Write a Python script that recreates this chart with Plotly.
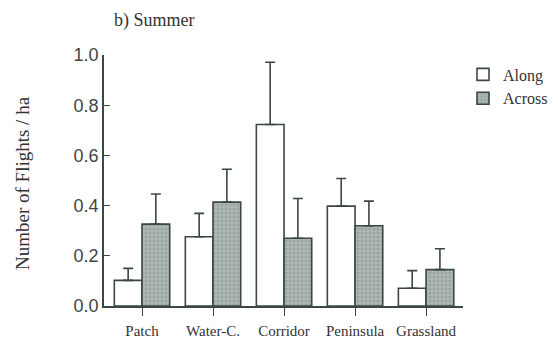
import plotly.graph_objects as go

# Summer flight counts per landscape element
categories = ["Patch", "Water-C.", "Corridor", "Peninsula", "Grassland"]
along = [0.102, 0.276, 0.723, 0.398, 0.071]
along_err = [0.048, 0.093, 0.248, 0.110, 0.070]
across = [0.326, 0.414, 0.270, 0.320, 0.145]
across_err = [0.120, 0.131, 0.158, 0.098, 0.083]
y_ticks = [0.0, 0.2, 0.4, 0.6, 0.8, 1.0]

ink = "#3b4743"
serif = "Liberation Serif, Times New Roman, serif"
sans = "Liberation Sans, Arial, sans-serif"

fig = go.Figure()
fig.add_trace(go.Bar(
    name="Along", x=categories, y=along,
    marker=dict(color="white", line=dict(color=ink, width=1.6)),
    error_y=dict(type="data", array=along_err, arrayminus=[0] * len(along),
                 color=ink, thickness=1.6, width=5),
    legendgroup="a",
))
fig.add_trace(go.Bar(
    name="Across", x=categories, y=across,
    marker=dict(color="#aeb9b2", line=dict(color=ink, width=1.6),
                pattern=dict(shape=".", fgcolor="#7f8d86", size=4, solidity=0.45)),
    error_y=dict(type="data", array=across_err, arrayminus=[0] * len(across),
                 color=ink, thickness=1.6, width=5),
    legendgroup="b",
))

fig.update_layout(
    width=558, height=344,
    margin=dict(l=104, r=95, t=55, b=37.5, autoexpand=False),
    paper_bgcolor="white", plot_bgcolor="white",
    barmode="group", bargap=0.22, bargroupgap=0,
    showlegend=True,
    legend=dict(x=1.0, y=0.99, xanchor="left", yanchor="top",
                font=dict(family=serif, size=16, color="#333"),
                traceorder="grouped", tracegroupgap=0,
                bgcolor="rgba(0,0,0,0)"),
    xaxis=dict(range=[-0.535, 4.52], showline=True, linecolor=ink, linewidth=1.6,
               ticks="outside", ticklen=8, tickcolor=ink, tickwidth=1.4,
               tickfont=dict(family=serif, size=15, color="#333"),
               ticklabelstandoff=2, automargin=False,
               showgrid=False, zeroline=False),
    yaxis=dict(range=[0, 1.0], showline=True, linecolor=ink, linewidth=1.6,
               tickvals=y_ticks, ticktext=[f"{v:.1f}" for v in y_ticks],
               ticks="inside", ticklen=6, tickcolor=ink, tickwidth=1.4,
               tickfont=dict(family=sans, size=18, color="#444"),
               automargin=False,
               showgrid=False, zeroline=False),
    annotations=[
        dict(text="b) Summer", xref="paper", yref="paper",
             x=(112 - 104) / 359, y=1 + (55 - 20) / 251.5, xanchor="left", yanchor="middle",
             showarrow=False, font=dict(family=serif, size=18, color="#333")),
        dict(text="Number of Flights / ha", xref="paper", yref="paper",
             x=(22 - 104) / 359, y=0.49, xanchor="center", yanchor="middle",
             textangle=-90, showarrow=False,
             font=dict(family=serif, size=19, color="#333")),
    ],
)

fig.write_html("out.html")
